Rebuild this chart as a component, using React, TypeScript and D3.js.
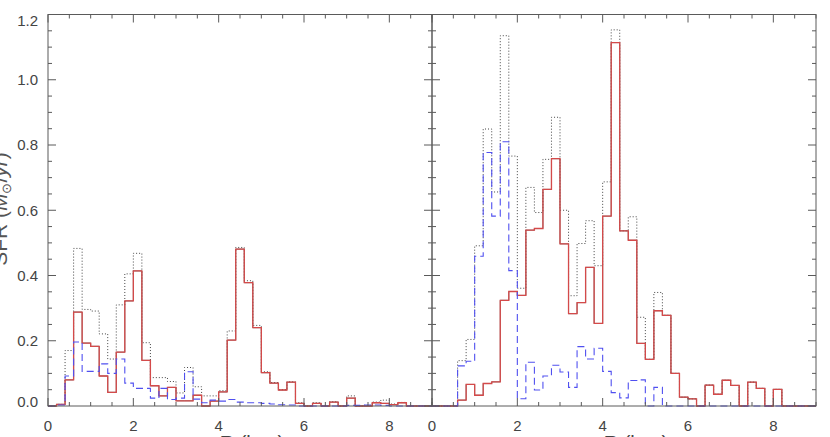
import React from "react";
import * as d3 from "d3";

const BIN = 0.2;
const XMAX = 9;

// Left panel
const dottedL = [0, 0.005, 0.17, 0.483, 0.296, 0.291, 0.221, 0.144, 0.31, 0.405, 0.468, 0.194, 0.087, 0.087, 0.075, 0.04, 0.118, 0.059, 0.031, 0.031, 0.047, 0.23, 0.486, 0.384, 0.247, 0.105, 0.072, 0.05, 0.074, 0.01, 0, 0.01, 0, 0.013, 0, 0.031, 0, 0.002, 0.012, 0.018, 0.006, 0.011, 0, 0, 0];
const solidL = [0, 0.005, 0.08, 0.288, 0.193, 0.183, 0.092, 0.042, 0.165, 0.322, 0.414, 0.14, 0.062, 0.031, 0.057, 0.016, 0.016, 0.033, 0, 0.015, 0.043, 0.202, 0.481, 0.378, 0.24, 0.102, 0.07, 0.049, 0.073, 0.008, 0, 0.008, 0, 0.012, 0, 0.024, 0, 0, 0.01, 0.008, 0.004, 0.01, 0, 0, 0];
const redL = solidL;
const blueL = [0, 0.003, 0.092, 0.196, 0.106, 0.106, 0.129, 0.1, 0.144, 0.07, 0.054, 0.054, 0.024, 0.054, 0.02, 0.024, 0.105, 0.021, 0.01, 0.018, 0.015, 0.02, 0.012, 0.01, 0.01, 0.008, 0.006, 0.004, 0.003, 0, 0, 0, 0, 0, 0, 0.002, 0.002, 0.003, 0.003, 0.002, 0, 0, 0, 0, 0];

// Right panel
const dottedR = [0, 0, 0, 0.139, 0.204, 0.491, 0.849, 0.656, 1.135, 0.766, 0.361, 0.67, 0.593, 0.756, 0.885, 0.6, 0.338, 0.498, 0.568, 0.43, 0.687, 1.153, 0.537, 0.58, 0.272, 0.143, 0.348, 0.278, 0.1, 0.027, 0.022, 0, 0.064, 0.036, 0.079, 0.063, 0, 0.073, 0.054, 0, 0.051, 0, 0, 0, 0];
const solidR = [0, 0, 0, 0.018, 0.066, 0.033, 0.069, 0.074, 0.324, 0.351, 0.339, 0.539, 0.544, 0.664, 0.758, 0.497, 0.283, 0.317, 0.425, 0.253, 0.582, 1.114, 0.537, 0.508, 0.192, 0.143, 0.292, 0.278, 0.1, 0.027, 0.022, 0, 0.064, 0.036, 0.079, 0.063, 0, 0.073, 0.054, 0, 0.051, 0, 0, 0, 0];
const redR = solidR;
const blueR = [0, 0, 0, 0.123, 0.137, 0.459, 0.777, 0.582, 0.81, 0.415, 0.022, 0.134, 0.049, 0.092, 0.125, 0.104, 0.057, 0.182, 0.144, 0.177, 0.106, 0.041, 0.025, 0.078, 0.08, 0, 0.057, 0, 0, 0, 0, 0, 0, 0, 0, 0, 0, 0, 0, 0, 0, 0, 0, 0, 0];

const yTickLabels = ["0.0", "0.2", "0.4", "0.6", "0.8", "1.0", "1.2"];
const xTickLabels = ["0", "2", "4", "6", "8"];

const TOP = 14.5;
const BOTTOM = 406;
const PANELS = [
  { left: 48, right: 432, dotted: dottedL, solid: solidL, red: redL, blue: blueL, yLabels: true },
  { left: 432, right: 816, dotted: dottedR, solid: solidR, red: redR, blue: blueR, yLabels: false },
];

const AXIS = "#5a5a5a";
const FONT = "'Liberation Sans', Arial, sans-serif";

function stepPoints(vals: number[]): [number, number][] {
  const pts: [number, number][] = [[0, 0]];
  vals.forEach((v, i) => {
    pts.push([i * BIN, v]);
    pts.push([(i + 1) * BIN, v]);
  });
  pts.push([vals.length * BIN, 0]);
  return pts;
}

export default function App() {
  const y = d3.scaleLinear().domain([0, 1.2]).range([BOTTOM, TOP]);
  const yMajor = d3.range(0, 1.2001, 0.2);
  const yMinor = d3.range(0, 1.2001, 0.05);
  const xMajor = d3.range(0, 8.001, 2);
  const xMinor = d3.range(0, 9.001, 0.5);

  return (
    <svg width={830} height={437} style={{ position: "absolute", left: 0, top: 0, background: "#fff" }}>
      <rect x={0} y={0} width={830} height={437} fill="#fff" />
      {PANELS.map((p, pi) => {
        const x = d3.scaleLinear().domain([0, XMAX]).range([p.left, p.right]);
        const line = d3
          .line<[number, number]>()
          .x((d) => x(d[0]))
          .y((d) => y(d[1]));
        return (
          <g key={pi}>
            {/* histograms */}
            <path d={line(stepPoints(p.dotted)) || ""} fill="none" stroke="#444" strokeWidth={1} strokeDasharray="1,2" />
            <path d={line(stepPoints(p.solid)) || ""} fill="none" stroke="#333" strokeWidth={0.7} />
            <path d={line(stepPoints(p.red)) || ""} fill="none" stroke="#d44a4a" strokeWidth={1.3} />
            <path d={line(stepPoints(p.blue)) || ""} fill="none" stroke="#5050f0" strokeWidth={1.1} strokeDasharray="7,4" />

            {/* frame */}
            <rect x={p.left} y={TOP} width={p.right - p.left} height={BOTTOM - TOP} fill="none" stroke={AXIS} strokeWidth={1} />

            {/* x ticks */}
            {xMinor.map((t, i) => {
              const major = Math.abs(t / 2 - Math.round(t / 2)) < 1e-6;
              const len = major ? 8 : 4;
              return (
                <g key={"xt" + i}>
                  <line x1={x(t)} x2={x(t)} y1={BOTTOM} y2={BOTTOM - len} stroke={AXIS} strokeWidth={1} />
                  <line x1={x(t)} x2={x(t)} y1={TOP} y2={TOP + len} stroke={AXIS} strokeWidth={1} />
                </g>
              );
            })}
            {xMajor.map((t, i) => (
              <text key={"xl" + i} x={x(t)} y={431} textAnchor="middle" fontFamily={FONT} fontSize={15} fill="#444">
                {xTickLabels[i]}
              </text>
            ))}

            {/* y ticks */}
            {yMinor.map((t, i) => {
              const major = i % 4 === 0;
              const len = major ? 8 : 4;
              return (
                <g key={"yt" + i}>
                  <line x1={p.left} x2={p.left + len} y1={y(t)} y2={y(t)} stroke={AXIS} strokeWidth={1} />
                  <line x1={p.right} x2={p.right - len} y1={y(t)} y2={y(t)} stroke={AXIS} strokeWidth={1} />
                </g>
              );
            })}
            {p.yLabels &&
              yMajor.map((t, i) => {
                const cy = Math.min(Math.max(y(t), 20.5), 401.5);
                return (
                  <text key={"yl" + i} x={38} y={cy} dy="0.36em" textAnchor="end" fontFamily={FONT} fontSize={15} fill="#444">
                    {yTickLabels[i]}
                  </text>
                );
              })}

            {/* x title (mostly cropped, as in the reference) */}
            <text x={p.left + 171.7} y={450} textAnchor="start" fontFamily={FONT} fontSize={20} fill="#444">
              R (kpc)
            </text>
          </g>
        );
      })}

      {/* y title (mostly cropped, as in the reference) */}
      <text transform="translate(7,209) rotate(-90)" textAnchor="middle" fontFamily={FONT} fontSize={21} fill="#555">
        SFR (<tspan fontStyle="italic">M</tspan>
        <tspan fontSize={13} dy={4}>⊙</tspan>
        <tspan dy={-4}>/</tspan>
        <tspan fontStyle="italic">yr</tspan>)
      </text>
    </svg>
  );
}
